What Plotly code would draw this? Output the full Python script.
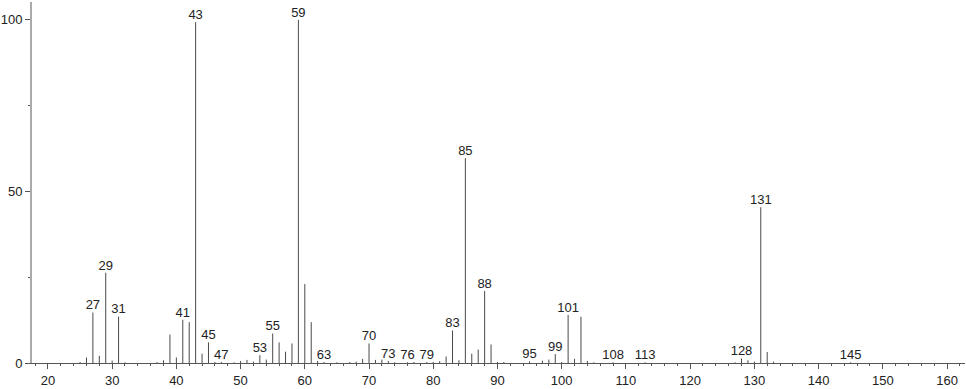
import plotly.graph_objects as go

# m/z values and relative intensities
mz = [25, 26, 27, 28, 29, 30, 31, 32, 37, 38, 39, 40, 41, 42, 43, 44, 45, 46, 47,
      49, 50, 51, 52, 53, 54, 55, 56, 57, 58, 59, 60, 61, 62, 63, 65, 67, 68, 69,
      70, 71, 72, 73, 74, 76, 77, 79, 80, 81, 82, 83, 84, 85, 86, 87, 88, 89, 90,
      91, 95, 97, 98, 99, 100, 101, 102, 103, 104, 105, 108, 113, 127, 128, 129,
      130, 131, 132, 133, 145]
intensity = [0.3, 1.6, 14.7, 2.1, 26.3, 0.7, 13.5, 0.2, 0.3, 0.8, 8.3, 1.6, 12.6,
             11.9, 99.3, 2.7, 6.0, 0.3, 0.3, 0.2, 0.6, 0.9, 0.4, 2.3, 1.0, 8.6,
             6.0, 3.3, 5.7, 100.0, 23.0, 11.9, 0.6, 0.3, 0.2, 0.3, 0.4, 1.2, 5.7,
             0.9, 1.0, 0.6, 0.2, 0.2, 0.3, 0.3, 0.3, 0.5, 1.9, 9.5, 0.8, 59.7, 2.7,
             3.9, 21.0, 5.4, 0.3, 0.3, 0.5, 0.7, 1.0, 2.6, 0.3, 14.0, 1.2, 13.5,
             0.6, 0.2, 0.2, 0.2, 0.2, 1.3, 0.8, 0.4, 45.4, 3.2, 0.4, 0.2]

labeled_mz = [27, 29, 31, 41, 43, 45, 47, 53, 55, 59, 63, 70, 73, 76, 79, 83, 85,
              88, 95, 99, 101, 108, 113, 128, 131, 145]

x_ticks = [20, 30, 40, 50, 60, 70, 80, 90, 100, 110, 120, 130, 140, 150, 160]
y_ticks = [0, 50, 100]

FONT = "Liberation Sans"

# stick spectrum built from the data arrays
xs, ys = [], []
for m, h in zip(mz, intensity):
    xs += [m, m, None]
    ys += [0, h, None]

lookup = dict(zip(mz, intensity))
lab_y = [lookup[m] for m in labeled_mz]

fig = go.Figure()
fig.add_trace(go.Scatter(x=xs, y=ys, mode="lines",
                         line=dict(color="#4a4a4a", width=1),
                         hoverinfo="skip", showlegend=False))
fig.add_trace(go.Scatter(x=labeled_mz, y=lab_y, mode="text",
                         text=[str(m) for m in labeled_mz],
                         textposition="top center",
                         textfont=dict(family=FONT, size=13, color="#222"),
                         showlegend=False))

fig.update_layout(
    width=966, height=389,
    margin=dict(l=29, r=1, t=2, b=22),
    paper_bgcolor="white", plot_bgcolor="white",
    showlegend=False,
    font=dict(family=FONT, size=13, color="#222"),
    xaxis=dict(range=[17.52, 162.8], tickvals=x_ticks,
               ticktext=[str(v) for v in x_ticks],
               showgrid=False, zeroline=False,
               showline=True, linecolor="#555", linewidth=1,
               ticks="outside", ticklen=5, tickcolor="#555", tickwidth=1,
               minor=dict(dtick=2, tick0=0, ticks="outside", ticklen=2,
                          tickcolor="#555", showgrid=False),
               tickfont=dict(family=FONT, size=13, color="#222")),
    yaxis=dict(range=[0, 105.2], tickvals=y_ticks,
               ticktext=[str(v) for v in y_ticks],
               showgrid=False, zeroline=False,
               showline=True, linecolor="#aaaaaa", linewidth=2,
               ticks="outside", ticklen=5, tickcolor="#555", tickwidth=1,
               minor=dict(dtick=25, tick0=0, ticks="outside", ticklen=2,
                          tickcolor="#555", showgrid=False),
               tickfont=dict(family=FONT, size=13, color="#222")),
)

fig.write_html("out.html")
